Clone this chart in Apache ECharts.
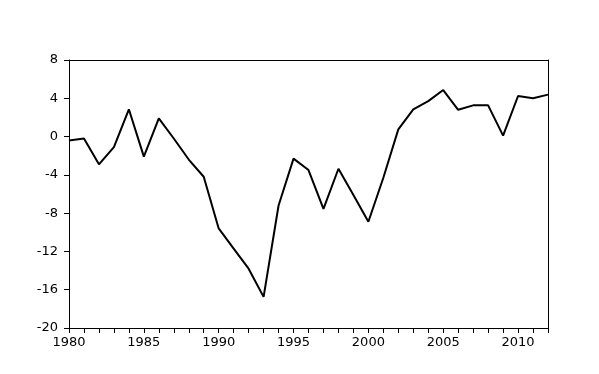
<!DOCTYPE html>
<html>
<head>
<meta charset="utf-8">
<script src="https://cdn.jsdelivr.net/npm/echarts@6/dist/echarts.min.js"></script>
<style>html,body{margin:0;padding:0;background:#fff;}#c{width:599px;height:374px;}</style>
</head>
<body>
<div id="c"></div>
<script>
const years = [1980,1981,1982,1983,1984,1985,1986,1987,1988,1989,1990,1991,1992,1993,1994,1995,1996,1997,1998,1999,2000,2001,2002,2003,2004,2005,2006,2007,2008,2009,2010,2011,2012];
const values = [-0.4,-0.2,-2.9,-1.1,2.85,-2.1,1.9,-0.2,-2.4,-4.2,-9.6,-11.7,-13.8,-16.75,-7.2,-2.3,-3.5,-7.55,-3.36,-6.1,-8.9,-4.3,0.75,2.85,3.7,4.86,2.8,3.26,3.26,0.1,4.24,4.0,4.38];
const yTicks = [-20,-16,-12,-8,-4,0,4,8];

const font = 'DejaVu Sans, Liberation Sans, sans-serif';
const xMin = years[0], xMax = years[years.length-1];
const yMin = yTicks[0], yMax = yTicks[yTicks.length-1];
const frameAxis = {show:true,axisLine:{show:true,onZero:false,lineStyle:{color:'#000',width:1}},
  axisTick:{show:false},axisLabel:{show:false},splitLine:{show:false}};
const chart = echarts.init(document.getElementById('c'), null, {renderer:'canvas'});
chart.setOption({
  animation:false,
  backgroundColor:'#fff',
  grid:{left:69,right:51,top:60,bottom:46,show:false},
  xAxis:[{type:'value',position:'bottom',min:xMin,max:xMax,interval:1,
    axisLine:{show:true,onZero:false,lineStyle:{color:'#000',width:1}},
    axisTick:{show:true,inside:false,length:5,lineStyle:{color:'#000',width:1}},
    splitLine:{show:false},
    axisLabel:{show:true,color:'#000',fontFamily:font,fontSize:13,margin:8,
      formatter:v=> (v%5===0 ? String(v) : '')}
  },
  Object.assign({type:'value',position:'top',min:xMin,max:xMax,interval:1},frameAxis)],
  yAxis:[{type:'value',position:'left',min:yMin,max:yMax,interval:4,
    axisLine:{show:true,onZero:false,lineStyle:{color:'#000',width:1}},
    axisTick:{show:true,inside:false,length:5,lineStyle:{color:'#000',width:1}},
    splitLine:{show:false},
    axisLabel:{show:true,color:'#000',fontFamily:font,fontSize:13,margin:11}
  },
  Object.assign({type:'value',position:'right',min:yMin,max:yMax,interval:4},frameAxis)],
  series:[{type:'line',xAxisIndex:0,yAxisIndex:0,data:years.map((y,i)=>[y,values[i]]),showSymbol:false,
    lineStyle:{color:'#000',width:2},clip:true}]
});
</script>
</body>
</html>
